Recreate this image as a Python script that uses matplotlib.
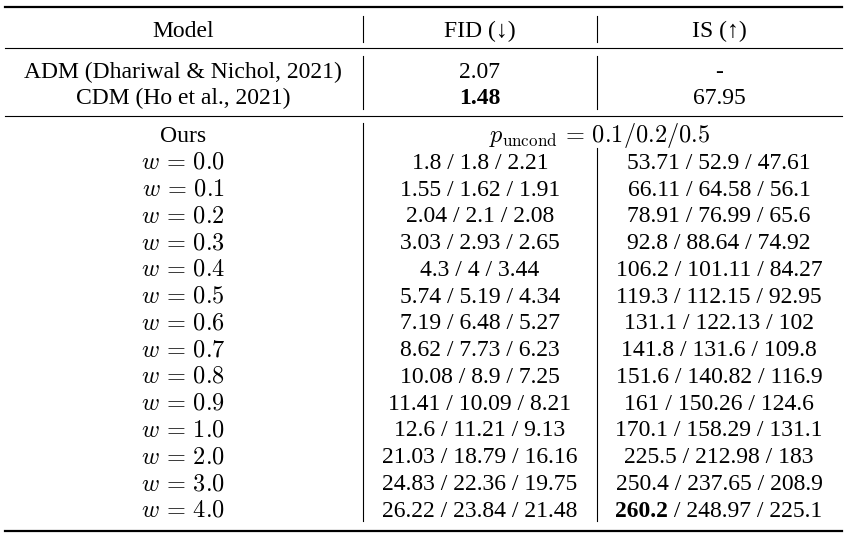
import matplotlib
matplotlib.use("Agg")
import matplotlib.pyplot as plt

plt.rcParams['mathtext.fontset'] = 'cm'

# table content
header = ["Model", "FID (\u2193)", "IS (\u2191)"]
baseline_models = ["ADM (Dhariwal & Nichol, 2021)", "CDM (Ho et al., 2021)"]
baseline_fid = ["2.07", "1.48"]
baseline_is = ["-", "67.95"]
baseline_bold_fid = [False, True]

w_values = [0.0, 0.1, 0.2, 0.3, 0.4, 0.5, 0.6, 0.7, 0.8, 0.9, 1.0, 2.0, 3.0, 4.0]
fid_p01 = [1.8, 1.55, 2.04, 3.03, 4.3, 5.74, 7.19, 8.62, 10.08, 11.41, 12.6, 21.03, 24.83, 26.22]
fid_p02 = [1.8, 1.62, 2.1, 2.93, 4, 5.19, 6.48, 7.73, 8.9, 10.09, 11.21, 18.79, 22.36, 23.84]
fid_p05 = [2.21, 1.91, 2.08, 2.65, 3.44, 4.34, 5.27, 6.23, 7.25, 8.21, 9.13, 16.16, 19.75, 21.48]
is_p01 = [53.71, 66.11, 78.91, 92.8, 106.2, 119.3, 131.1, 141.8, 151.6, 161, 170.1, 225.5, 250.4, 260.2]
is_p02 = [52.9, 64.58, 76.99, 88.64, 101.11, 112.15, 122.13, 131.6, 140.82, 150.26, 158.29, 212.98, 237.65, 248.97]
is_p05 = [47.61, 56.1, 65.6, 74.92, 84.27, 92.95, 102, 109.8, 116.9, 124.6, 131.1, 183, 208.9, 225.1]

W, H = 848, 541
fig = plt.figure(figsize=(W / 100, H / 100), dpi=100)
ax = fig.add_axes([0, 0, 1, 1])
ax.set_xlim(0, W)
ax.set_ylim(H, 0)
ax.axis('off')

FS = 17
MFS = 17.5
serif = ['Liberation Serif', 'DejaVu Serif']
x_model, x_fid, x_is = 183, 480, 719
x_v1, x_v2 = 363, 597
BASE = 7.8   # half cap height in px, row y is the middle of the capitals

def put(x, y, s, bold=False, ha='center', size=FS):
    ax.text(x, y + BASE, s, ha=ha, va='baseline', fontsize=size, family=serif,
            fontweight='bold' if bold else 'normal')

def fmt(v):
    return f"{v:g}"

# rules
ax.plot([5, 842], [7, 7], color='black', lw=1.6)
ax.plot([5, 842], [48, 48], color='black', lw=0.8)
ax.plot([5, 842], [116, 116], color='black', lw=0.8)
ax.plot([5, 842], [531, 531], color='black', lw=1.6)

# header
y = 29
put(x_model, y, header[0])
put(x_fid, y, header[1])
put(x_is, y, header[2])
ax.plot([x_v1, x_v1], [16, 42], color='black', lw=0.8)
ax.plot([x_v2, x_v2], [16, 42], color='black', lw=0.8)

# baselines
for i, name in enumerate(baseline_models):
    y = 70 + i * 26.5
    put(x_model, y, name)
    put(x_fid, y, baseline_fid[i], bold=baseline_bold_fid[i])
    put(x_is, y, baseline_is[i])
ax.plot([x_v1, x_v1], [56, 109], color='black', lw=0.8)
ax.plot([x_v2, x_v2], [56, 109], color='black', lw=0.8)

# ours
put(x_model, 134, "Ours")
ax.text(600, 134 + BASE, r"$p_{\mathrm{uncond}}\,=\,0.1/0.2/0.5$", ha='center', va='baseline',
        fontsize=MFS)

fig.canvas.draw()
renderer = fig.canvas.get_renderer()

def width_px(s, bold=False):
    t = ax.text(0, 0, s, fontsize=FS, family=serif, fontweight='bold' if bold else 'normal')
    w = t.get_window_extent(renderer).width
    t.remove()
    return w

row_h = 26.77
y0 = 161
best_is = max(max(is_p01), max(is_p02), max(is_p05))
for i, w in enumerate(w_values):
    y = y0 + i * row_h
    ax.text(x_model, y + BASE, rf"$w\,=\,{w:.1f}$", ha='center', va='baseline', fontsize=MFS)
    put(x_fid, y, " / ".join(fmt(v) for v in (fid_p01[i], fid_p02[i], fid_p05[i])))
    parts = [fmt(is_p01[i]), fmt(is_p02[i]), fmt(is_p05[i])]
    vals = [is_p01[i], is_p02[i], is_p05[i]]
    if best_is in vals:
        k = vals.index(best_is)
        segs = []
        for j, p in enumerate(parts):
            segs.append((p, j == k))
            if j < 2:
                segs.append((" / ", False))
        # merge adjacent regular segments
        merged = []
        for s, b in segs:
            if merged and merged[-1][1] == b:
                merged[-1] = (merged[-1][0] + s, b)
            else:
                merged.append((s, b))
        total = sum(width_px(s, b) for s, b in merged)
        xs = x_is - total / 2
        for s, b in merged:
            put(xs, y, s, bold=b, ha='left')
            xs += width_px(s, b)
    else:
        put(x_is, y, " / ".join(parts))

ax.plot([x_v1, x_v1], [123, 521], color='black', lw=0.8)
ax.plot([x_v2, x_v2], [148, 521], color='black', lw=0.8)

fig.savefig("out.png", dpi=100)
